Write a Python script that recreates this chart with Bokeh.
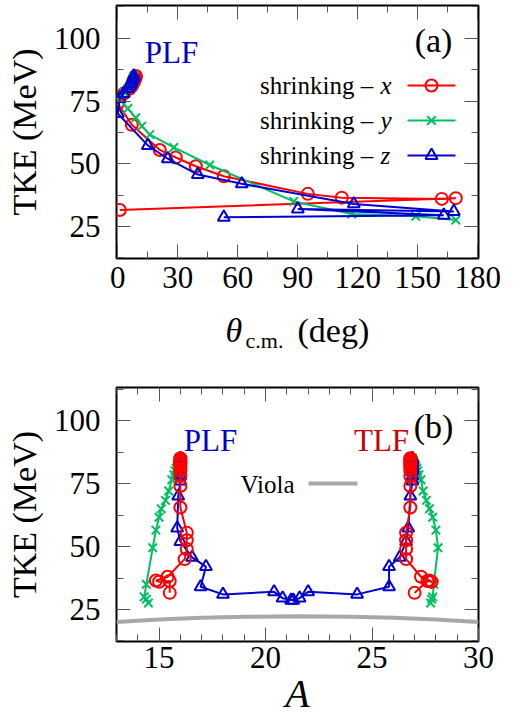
from bokeh.plotting import figure
from bokeh.models import Range1d, FixedTicker, LinearAxis, Label, CustomJSTickFormatter
from bokeh.layouts import column
from bokeh.embed import file_html
from bokeh.resources import INLINE

# ---------------- data ----------------
# shrinking - x (red circles)
tke_x = [85.0, 84.5, 84.0, 83.5, 83.0, 82.5, 82.0, 81.0, 80.0, 78.0, 74.0, 65.5, 55.5, 52.5, 49.0, 45.0, 38.0, 36.5, 36.0, 36.3, 31.6]
theta_x = [9.0, 9.0, 8.5, 8.5, 8.0, 8.0, 7.5, 7.0, 6.0, 3.0, 0.0, 7.0, 21.0, 29.0, 39.0, 53.0, 95.0, 112.0, 162.0, 169.0, 1.0]
a_plf_x = [16.0, 16.0, 16.0, 16.0, 16.0, 16.0, 16.0, 16.0, 16.0, 16.0, 16.0, 16.0, 16.3, 16.3, 16.3, 16.2, 15.4, 14.85, 15.0, 15.5, 15.5]
a_tlf_x = [26.8, 26.8, 26.8, 26.8, 26.8, 26.8, 26.8, 26.8, 26.8, 26.8, 26.8, 26.8, 26.6, 26.6, 26.6, 26.6, 27.3, 27.7, 27.8, 27.6, 27.0]

# shrinking - y (green crosses)
tke_y = [85.0, 84.5, 84.0, 83.0, 82.0, 81.0, 80.0, 78.5, 76.5, 72.0, 68.3, 65.0, 61.6, 56.5, 49.5, 35.0, 30.0, 29.1, 27.6]
theta_y = [8.0, 8.0, 7.5, 7.0, 6.5, 6.0, 5.0, 3.0, 0.0, 5.0, 9.0, 12.0, 16.0, 28.0, 46.0, 88.0, 117.0, 149.0, 169.0]
a_plf_y = [15.95, 15.95, 15.9, 15.9, 15.85, 15.8, 15.75, 15.7, 15.6, 15.45, 15.3, 15.1, 15.0, 14.85, 14.7, 14.4, 14.3, 14.4, 14.5]
a_tlf_y = [26.9, 26.9, 26.95, 27.0, 27.05, 27.1, 27.15, 27.2, 27.3, 27.4, 27.55, 27.7, 27.85, 28.0, 28.1, 27.9, 27.85, 27.8, 27.75]

# shrinking - z (blue triangles)
tke_z = [85.0, 84.5, 84.0, 83.0, 82.0, 81.0, 80.0, 78.0, 76.0, 70.0, 57.3, 52.0, 45.7, 42.0, 34.0, 31.0, 32.0, 29.5, 28.7]
theta_z = [8.0, 8.0, 7.5, 7.0, 6.5, 6.0, 5.0, 3.0, 1.0, 0.0, 15.0, 25.0, 40.0, 62.0, 118.0, 168.0, 90.0, 163.0, 53.0]
a_plf_z = [16.0, 16.0, 16.0, 16.0, 16.0, 16.0, 16.0, 16.0, 16.0, 15.9, 15.85, 16.0, 16.55, 17.2, 16.95, 18.0, 20.4, 20.8, 21.3]
a_tlf_z = [26.9, 26.9, 26.9, 26.9, 26.9, 26.9, 26.9, 26.9, 26.9, 26.8, 26.7, 26.6, 26.3, 25.8, 25.8, 24.3, 22.0, 21.6, 21.2]

# Viola systematics (grey curve)
a_viola = [13.0, 15.0, 17.0, 19.0, 21.5, 24.0, 26.0, 28.0, 30.0]
tke_viola = [20.0, 21.0, 21.7, 22.1, 22.3, 22.1, 21.7, 21.0, 20.0]

theta_ticks = [0, 30, 60, 90, 120, 150, 180]
theta_minor = [15, 45, 75, 105, 135, 165]
a_ticks = [15, 20, 25, 30]
a_minor = [13, 14, 16, 17, 18, 19, 21, 22, 23, 24, 26, 27, 28, 29]
tke_ticks = [25, 50, 75, 100]
tke_minor = [12.5, 37.5, 62.5, 87.5, 112.5]

legend_labels = ["x", "y", "z"]

# ---------------- style ----------------
FONT = "Liberation Serif"
RED = "#ff0000"
GREEN = "#00c060"
BLUE = "#0000d0"
GREY = "#a8a8a8"

W = 518
FL, FR = 116, 40
H1, T1, B1 = 301, 5, 43          # top panel: canvas y 0..301, frame 5..258
HT1 = 55                         # theta label strip: 301..356
H2, T2, B2 = 369, 31, 84         # bottom panel: 356..725, frame 387..641
Y2 = H1 + HT1                    # window y of bottom panel canvas

xr1 = (-0.65, 180.35)
yr1 = (12.25, 113.05)
xr2 = (13.0, 30.0)
yr2 = (12.30, 113.10)


def make_fig(h, xr, yr, top, bottom):
    p = figure(width=W, height=h, x_range=Range1d(*xr), y_range=Range1d(*yr),
               output_backend="svg", toolbar_location=None, title=None,
               min_border_left=FL, min_border_right=FR,
               min_border_top=top, min_border_bottom=bottom)
    p.grid.visible = False
    p.outline_line_color = "black"
    p.outline_line_width = 2
    p.background_fill_color = "white"
    p.border_fill_color = "white"
    return p


def style_axis(ax, ticks, minor, labels=True):
    ax.ticker = FixedTicker(ticks=ticks, minor_ticks=minor)
    ax.axis_line_color = None
    ax.major_tick_in = 14
    ax.major_tick_out = 0
    ax.minor_tick_in = 7
    ax.minor_tick_out = 0
    ax.major_tick_line_color = "#555555"
    ax.minor_tick_line_color = "#555555"
    ax.major_tick_line_width = 1
    ax.minor_tick_line_width = 1
    if labels:
        ax.major_label_text_font = FONT
        ax.major_label_text_font_size = "31px"
        ax.major_label_text_color = "black"
    else:
        ax.formatter = CustomJSTickFormatter(code="return ''")
        ax.major_label_text_font_size = "0px"
        ax.major_label_standoff = 0
        ax.axis_label_standoff = 0


def add_mirrors(p, xr, yr, xt, xm, yt, ym):
    top = LinearAxis(fixed_location=yr[1])
    style_axis(top, xt, xm, labels=False)
    p.add_layout(top, "above")
    right = LinearAxis(fixed_location=xr[1])
    style_axis(right, yt, ym, labels=False)
    p.add_layout(right, "right")


def tke_ylabel(p):
    ax = p.yaxis[0]
    ax.axis_label = "TKE (MeV)"
    ax.axis_label_text_font = FONT
    ax.axis_label_text_font_size = "34px"
    ax.axis_label_text_font_style = "normal"
    ax.axis_label_text_color = "black"
    ax.axis_label_standoff = 8
    ax.major_label_standoff = 16


def series(p, xs, ys, color, marker):
    p.line(xs, ys, line_color=color, line_width=2)
    p.scatter(xs, ys, marker=marker, size=12, line_color=color, line_width=2,
              fill_color=None)


MID = 0.3375   # offset (in em) from the text-box middle down to the baseline


def txt(p, conv, wx, wbase, text, size, color="black", style="normal", align="left"):
    # place text so its baseline falls on window row wbase
    x, y = conv(wx, wbase - MID * size)
    p.add_layout(Label(x=x, y=y, text=text, text_font=FONT,
                       text_font_size=f"{size}px", text_color=color, text_font_style=style,
                       text_align=align, text_baseline="middle"))


def mapper(xr, yr, y0, top, h, bottom):
    # window pixel -> data coordinates for a panel whose canvas starts at window y0
    fw = W - FL - FR
    fh = h - top - bottom
    fb = y0 + h - bottom

    def f(wx, wy):
        x = xr[0] + (wx - FL) / fw * (xr[1] - xr[0])
        y = yr[0] + (fb - wy) / fh * (yr[1] - yr[0])
        return x, y
    return f


# ---------------- top panel ----------------
p1 = make_fig(H1, xr1, yr1, T1, B1)
d1 = mapper(xr1, yr1, 0, T1, H1, B1)

series(p1, theta_x, tke_x, RED, "circle")
series(p1, theta_y, tke_y, GREEN, "x")
series(p1, theta_z, tke_z, BLUE, "triangle")

style_axis(p1.xaxis[0], theta_ticks, theta_minor)
style_axis(p1.yaxis[0], tke_ticks, tke_minor)
p1.xaxis[0].major_label_standoff = 8
add_mirrors(p1, xr1, yr1, theta_ticks, theta_minor, tke_ticks, tke_minor)
tke_ylabel(p1)

colors = [RED, GREEN, BLUE]
markers = ["circle", "x", "triangle"]
for i, (lab, c, m) in enumerate(zip(legend_labels, colors, markers)):
    rowy = 85 + 35 * i
    txt(p1, d1, 379, rowy + 8, "shrinking \u2013 ", 25, align="right")
    txt(p1, d1, 380, rowy + 8, lab, 25, style="italic")
    x0, yy = d1(407, rowy)
    x1, _ = d1(455, rowy)
    xm, _ = d1(431, rowy)
    p1.line([x0, x1], [yy, yy], line_color=c, line_width=2)
    p1.scatter([xm], [yy], marker=m, size=12, line_color=c, line_width=2, fill_color=None)

txt(p1, d1, 433, 51, "(a)", 34, align="center")
txt(p1, d1, 171, 62, "PLF", 31, color="#0000cc", align="center")

# x label strip: theta_c.m. (deg) -- frame aligned with the panels, x in window px
t1 = figure(width=W, height=HT1, x_range=Range1d(FL, W - FR), y_range=Range1d(H1 + HT1, H1),
            output_backend="svg", toolbar_location=None, title=None,
            min_border_left=FL, min_border_right=FR, min_border_top=0, min_border_bottom=0,
            x_axis_type=None, y_axis_type=None)
t1.outline_line_color = None
t1.grid.visible = False
t1.border_fill_color = "white"


def ident(wx, wy):
    return wx, wy


txt(t1, ident, 225, 341, "\u03b8", 34, style="italic")
txt(t1, ident, 245, 347, "c.m.", 22)
txt(t1, ident, 297, 341, "(deg)", 34)

# ---------------- bottom panel ----------------
p2 = make_fig(H2, xr2, yr2, T2, B2)
d2 = mapper(xr2, yr2, Y2, T2, H2, B2)

p2.line(a_viola, tke_viola, line_color=GREY, line_width=4)
series(p2, a_plf_y, tke_y, GREEN, "x")
series(p2, a_tlf_y, tke_y, GREEN, "x")
series(p2, a_plf_z, tke_z, BLUE, "triangle")
series(p2, a_tlf_z, tke_z, BLUE, "triangle")
series(p2, a_plf_x, tke_x, RED, "circle")
series(p2, a_tlf_x, tke_x, RED, "circle")

style_axis(p2.xaxis[0], a_ticks, a_minor)
style_axis(p2.yaxis[0], tke_ticks, tke_minor)
p2.xaxis[0].major_label_standoff = 5
p2.xaxis[0].axis_label = "A"
p2.xaxis[0].axis_label_text_font = FONT
p2.xaxis[0].axis_label_text_font_size = "40px"
p2.xaxis[0].axis_label_text_font_style = "italic"
p2.xaxis[0].axis_label_text_color = "black"
p2.xaxis[0].axis_label_standoff = 0
add_mirrors(p2, xr2, yr2, a_ticks, a_minor, tke_ticks, tke_minor)
tke_ylabel(p2)

txt(p2, d2, 240, 492, "Viola", 25)
gx0, gy = d2(308, 483)
gx1, _ = d2(357, 483)
p2.line([gx0, gx1], [gy, gy], line_color=GREY, line_width=4)

txt(p2, d2, 433, 437, "(b)", 34, align="center")
txt(p2, d2, 210, 450, "PLF", 31, color="#0000cc", align="center")
txt(p2, d2, 381, 450, "TLF", 31, color="#cc0000", align="center")

layout = column(p1, t1, p2, spacing=0)
open("out.html", "w").write(file_html(layout, INLINE))
